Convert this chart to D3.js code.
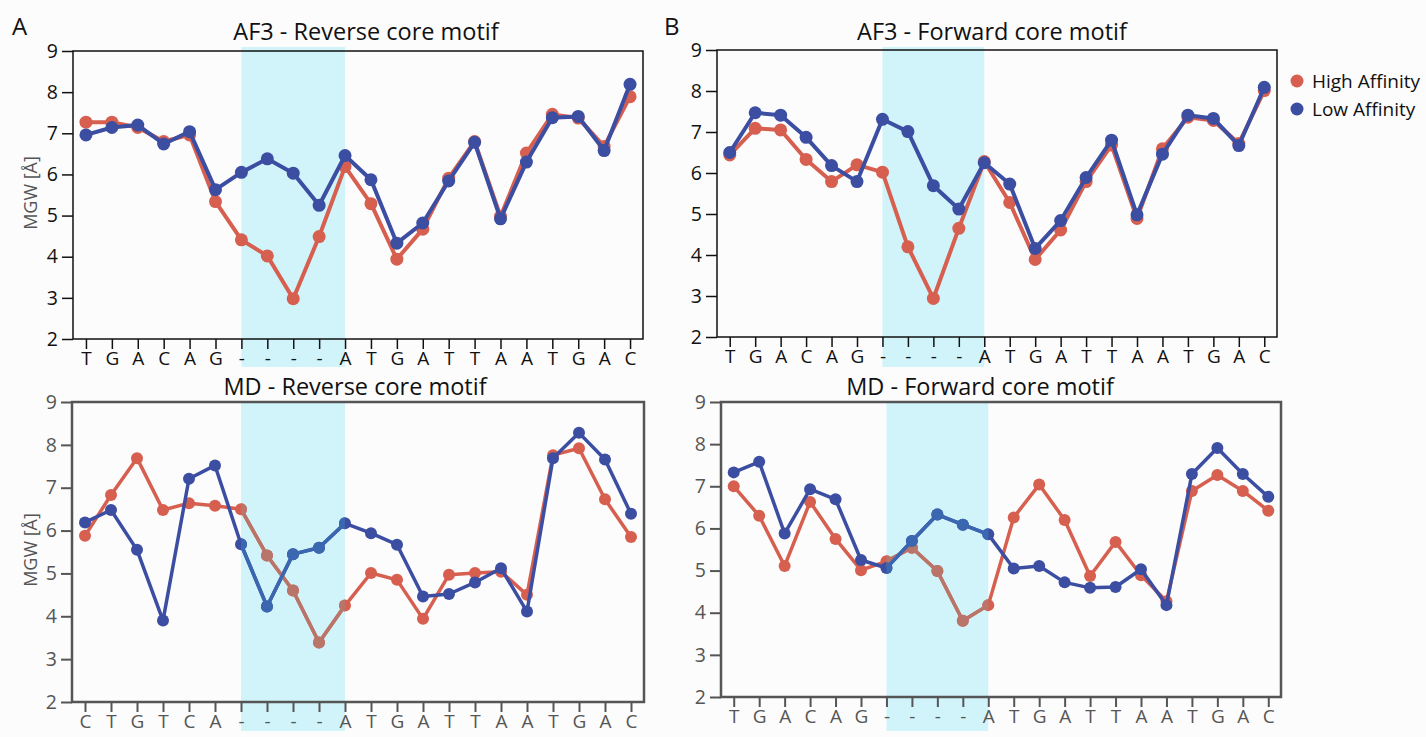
<!DOCTYPE html>
<html>
<head>
<meta charset="utf-8">
<script src="https://cdn.jsdelivr.net/npm/d3@7"></script>
<style>
  html, body { margin: 0; padding: 0; background: #fcfcfc; }
  svg { display: block; }
  text { font-family: "Open Sans", sans-serif; }
</style>
</head>
<body>
<svg id="chart" width="1426" height="737"></svg>
<script>
// ---------- DATA ----------
const labelsSeqA = ["T","G","A","C","A","G","-","-","-","-","A","T","G","A","T","T","A","A","T","G","A","C"];
const labelsSeqMDRev = ["C","T","G","T","C","A","-","-","-","-","A","T","G","A","T","T","A","A","T","G","A","C"];
const yTicks = [2, 3, 4, 5, 6, 7, 8, 9];
const seriesNames = ["High Affinity", "Low Affinity"];

const af3RevHigh = [7.27,7.27,7.14,6.80,6.96,5.34,4.41,4.02,2.98,4.49,6.19,5.29,3.94,4.67,5.91,6.80,4.98,6.52,7.46,7.37,6.68,7.89];
const af3RevLow  = [6.96,7.14,7.20,6.74,7.04,5.63,6.05,6.38,6.03,5.25,6.46,5.87,4.33,4.82,5.84,6.78,4.92,6.30,7.38,7.41,6.58,8.19];

const af3FwdHigh = [6.44,7.09,7.05,6.33,5.79,6.20,6.02,4.20,2.94,4.65,6.28,5.28,3.89,4.61,5.79,6.68,4.89,6.59,7.36,7.28,6.72,8.01];
const af3FwdLow  = [6.50,7.47,7.41,6.87,6.18,5.79,7.31,7.01,5.69,5.12,6.25,5.73,4.16,4.84,5.89,6.80,4.98,6.46,7.41,7.33,6.67,8.09];

const mdRevHigh = [5.88,6.83,7.69,6.48,6.64,6.58,6.50,5.42,4.60,3.39,4.25,5.01,4.85,3.94,4.97,5.01,5.04,4.50,7.76,7.92,6.73,5.85];
const mdRevLow  = [6.19,6.48,5.55,3.90,7.21,7.52,5.68,4.23,5.45,5.60,6.17,5.94,5.67,4.46,4.52,4.79,5.12,4.11,7.69,8.28,7.66,6.39];

const mdFwdHigh = [7.00,6.30,5.11,6.63,5.75,5.01,5.22,5.54,4.99,3.81,4.18,6.26,7.04,6.20,4.87,5.68,4.89,4.27,6.89,7.27,6.89,6.42];
const mdFwdLow  = [7.33,7.58,5.88,6.93,6.69,5.25,5.06,5.70,6.33,6.09,5.86,5.05,5.11,4.72,4.59,4.61,5.03,4.18,7.29,7.91,7.29,6.75];

const coreStart = 6, coreEnd = 10;

// ---------- STYLE / LAYOUT ----------
const RED = "#d65f4f", BLUE = "#3b4ea2";
const RED_T = "#b9756a", BLUE_T = "#3a67b0";
const BAND = "#d0f4fa";

const svg = d3.select("#chart");

const panels = [
  { title: "AF3 - Reverse core motif", labels: labelsSeqA, high: af3RevHigh, low: af3RevLow,
    l: 73, r: 643, t: 51, b: 339, bandTop: 47, bandBot: 367, titleX: 366, titleY: 40,
    md: false, ylabel: true },
  { title: "AF3 - Forward core motif", labels: labelsSeqA, high: af3FwdHigh, low: af3FwdLow,
    l: 717, r: 1277, t: 50, b: 337, bandTop: 47, bandBot: 367, titleX: 992, titleY: 40,
    md: false, ylabel: false },
  { title: "MD - Reverse core motif", labels: labelsSeqMDRev, high: mdRevHigh, low: mdRevLow,
    l: 72, r: 644, t: 402, b: 702, bandTop: 402, bandBot: 731, titleX: 355, titleY: 395,
    md: true, ylabel: true },
  { title: "MD - Forward core motif", labels: labelsSeqA, high: mdFwdHigh, low: mdFwdLow,
    l: 721, r: 1281, t: 402, b: 697, bandTop: 402, bandBot: 731, titleX: 980, titleY: 395,
    md: true, ylabel: false }
];

panels.forEach((p, pi) => {
  const idx = d3.range(p.labels.length);
  const x = d3.scalePoint().domain(idx).range([p.l, p.r]).padding(0.5);
  const y = d3.scaleLinear().domain([2, 9]).range([p.b, p.t]);
  const g = svg.append("g");
  const axisCol = p.md ? "#555" : "#111";
  const textCol = p.md ? "#555" : "#111";
  const frameW = p.md ? 2.5 : 1.5;

  // band
  const bx0 = x(coreStart), bx1 = x(coreEnd);
  g.append("rect").attr("x", bx0).attr("y", p.bandTop)
    .attr("width", bx1 - bx0).attr("height", p.bandBot - p.bandTop)
    .attr("fill", BAND);

  // frame
  g.append("rect").attr("x", p.l).attr("y", p.t)
    .attr("width", p.r - p.l).attr("height", p.b - p.t)
    .attr("fill", "none").attr("stroke", axisCol).attr("stroke-width", frameW);

  // y axis
  const ya = g.append("g").attr("transform", `translate(${p.l},0)`)
    .call(d3.axisLeft(y).tickValues(yTicks).tickSize(11).tickPadding(4).tickFormat(d3.format("d")));
  ya.select(".domain").remove();
  ya.selectAll("line").attr("stroke", axisCol).attr("stroke-width", p.md ? 2 : 1.5);
  ya.selectAll("text").attr("fill", textCol).style("font-size", "19.5px")
    .style("font-family", "'Open Sans', sans-serif");

  // x axis
  const xa = g.append("g").attr("transform", `translate(0,${p.b})`)
    .call(d3.axisBottom(x).tickSize(10).tickPadding(3).tickFormat(i => p.labels[i]));
  xa.select(".domain").remove();
  xa.selectAll("line").attr("stroke", axisCol).attr("stroke-width", p.md ? 2 : 1.5);
  xa.selectAll("text").attr("fill", textCol).style("font-size", "19px")
    .style("font-family", "'Open Sans', sans-serif");

  // title
  g.append("text").attr("x", p.titleX).attr("y", p.titleY).attr("text-anchor", "middle")
    .attr("fill", "#111").style("font-size", "23.5px").text(p.title);

  // y label
  if (p.ylabel) {
    g.append("text").attr("transform", `translate(37,${(p.t + p.b) / 2 - 2}) rotate(-90)`)
      .attr("text-anchor", "middle").attr("fill", "#555").style("font-size", "18px")
      .text("MGW [Å]");
  }

  const line = d3.line().x((d, i) => x(i)).y(d => y(d));
  const r = p.md ? 6 : 6.5;
  const sw = p.md ? 3.5 : 4;

  function drawSeries(parent, vals, color) {
    parent.append("path").datum(vals).attr("d", line)
      .attr("fill", "none").attr("stroke", color).attr("stroke-width", sw)
      .attr("stroke-linejoin", "round");
    parent.selectAll("circle.pt").data(vals).enter().append("circle")
      .attr("cx", (d, i) => x(i)).attr("cy", d => y(d)).attr("r", r).attr("fill", color);
  }

  const lg = g.append("g");
  drawSeries(lg, p.high, RED);
  drawSeries(lg, p.low, BLUE);

  if (p.md) {
    // in the MD panels the band tints the lines that pass through it
    const cid = "clip" + pi;
    svg.append("clipPath").attr("id", cid).append("rect")
      .attr("x", bx0).attr("y", p.t).attr("width", bx1 - bx0).attr("height", p.b - p.t);
    const tg = g.append("g").attr("clip-path", `url(#${cid})`);
    drawSeries(tg, p.high, RED_T);
    drawSeries(tg, p.low, BLUE_T);
  }
});

// panel letters
svg.append("text").attr("x", 12).attr("y", 35).attr("fill", "#111").style("font-size", "24px").text("A");
svg.append("text").attr("x", 664).attr("y", 35).attr("fill", "#111").style("font-size", "24px").text("B");

// legend
const legend = svg.append("g");
[RED, BLUE].forEach((c, i) => {
  legend.append("circle").attr("cx", 1297).attr("cy", 81 + i * 28).attr("r", 6.5).attr("fill", c);
  legend.append("text").attr("x", 1312).attr("y", 88 + i * 28).attr("fill", "#111")
    .style("font-size", "19px").text(seriesNames[i]);
});
</script>
</body>
</html>
